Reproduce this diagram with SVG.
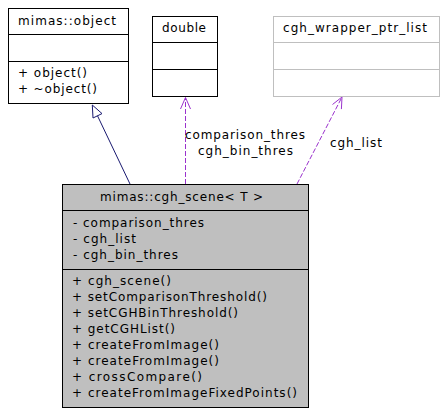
<svg xmlns="http://www.w3.org/2000/svg" width="446" height="415" viewBox="0 0 446 415">
<defs>
<style>
text{font-family:"DejaVu Sans","Liberation Sans",sans-serif;font-size:12px;fill:#000}
.box{fill:#fff;stroke:#000;stroke-width:1}
.gbox{fill:#fff;stroke:#bfbfbf;stroke-width:1}
.main{fill:#bfbfbf;stroke:#000;stroke-width:1}
.div{stroke:#000;stroke-width:1}
.gdiv{stroke:#bfbfbf;stroke-width:1}
.inh{stroke:#191970;stroke-width:1;fill:none}
.use{stroke:#9a32cd;stroke-width:1;fill:none}
.dash{stroke-dasharray:5,2}
</style>
</defs>
<rect width="446" height="415" fill="#fff"/>
<g id="connectors">
<line class="inh" x1="130" y1="184" x2="97.5" y2="115.8"/>
<polygon class="inh" fill="#fff" points="92.3,105 93,118 102,113.6"/>
<line class="use dash" x1="185.5" y1="184" x2="185.5" y2="98"/>
<polyline class="use" points="180.5,109 185.5,97.5 190.5,109"/>
<line class="use dash" x1="297" y1="184" x2="341.5" y2="98"/>
<polyline class="use" points="332.5,104.5 342,97 341.4,109.1"/>
<text x="185" y="139" textLength="120" lengthAdjust="spacing">comparison_thres</text>
<text x="198" y="155" textLength="95" lengthAdjust="spacing">cgh_bin_thres</text>
<text x="330" y="147" textLength="52" lengthAdjust="spacing">cgh_list</text>
</g>
<g id="node-object">
<rect class="box" x="8.5" y="8.5" width="120" height="95"/>
<line class="div" x1="8.5" y1="34.5" x2="128.5" y2="34.5"/>
<line class="div" x1="8.5" y1="61.5" x2="128.5" y2="61.5"/>
<text x="18" y="25" textLength="98" lengthAdjust="spacing">mimas::object</text>
<text x="18" y="77" textLength="69" lengthAdjust="spacing">+ object()</text>
<text x="18" y="93" textLength="79" lengthAdjust="spacing">+ ~object()</text>
</g>
<g id="node-double">
<rect class="box" x="152.5" y="16.5" width="65" height="80"/>
<line class="div" x1="152.5" y1="42.5" x2="217.5" y2="42.5"/>
<line class="div" x1="152.5" y1="69.5" x2="217.5" y2="69.5"/>
<text x="162" y="32" textLength="44" lengthAdjust="spacing">double</text>
</g>
<g id="node-cgh_wrapper_ptr_list">
<rect class="gbox" x="273.5" y="16.5" width="166" height="80"/>
<line class="gdiv" x1="273.5" y1="42.5" x2="439.5" y2="42.5"/>
<line class="gdiv" x1="273.5" y1="69.5" x2="439.5" y2="69.5"/>
<text x="283" y="32" textLength="144" lengthAdjust="spacing">cgh_wrapper_ptr_list</text>
</g>
<g id="node-cgh_scene">
<rect class="main" x="62.5" y="184.5" width="246" height="223"/>
<line class="div" x1="62.5" y1="210.5" x2="308.5" y2="210.5"/>
<line class="div" x1="62.5" y1="269.5" x2="308.5" y2="269.5"/>
<text x="100" y="201" textLength="163" lengthAdjust="spacing">mimas::cgh_scene&lt; T &gt;</text>
<text x="73" y="227" textLength="131" lengthAdjust="spacing">- comparison_thres</text>
<text x="73" y="243" textLength="63" lengthAdjust="spacing">- cgh_list</text>
<text x="73" y="259" textLength="105" lengthAdjust="spacing">- cgh_bin_thres</text>
<text x="72" y="285" textLength="99" lengthAdjust="spacing">+ cgh_scene()</text>
<text x="72" y="301" textLength="195" lengthAdjust="spacing">+ setComparisonThreshold()</text>
<text x="72" y="317" textLength="166" lengthAdjust="spacing">+ setCGHBinThreshold()</text>
<text x="72" y="333" textLength="103" lengthAdjust="spacing">+ getCGHList()</text>
<text x="72" y="349" textLength="147" lengthAdjust="spacing">+ createFromImage()</text>
<text x="72" y="365" textLength="147" lengthAdjust="spacing">+ createFromImage()</text>
<text x="72" y="381" textLength="130" lengthAdjust="spacing">+ crossCompare()</text>
<text x="72" y="397" textLength="225" lengthAdjust="spacing">+ createFromImageFixedPoints()</text>
</g>
</svg>
